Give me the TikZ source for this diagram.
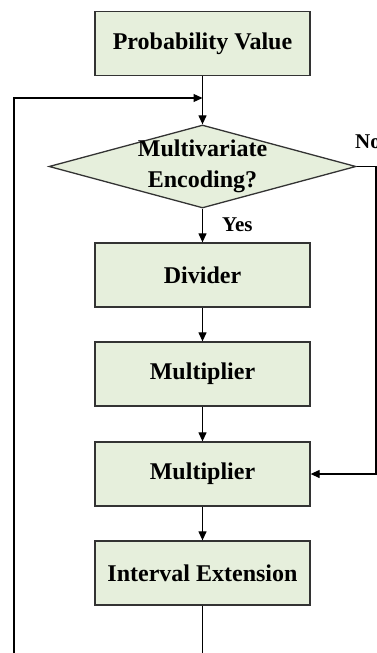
\documentclass[tikz,border=0pt]{standalone}
\usepackage{fontspec}
\setmainfont{Liberation Serif}
\usetikzlibrary{shapes.geometric,arrows.meta}
\definecolor{boxfill}{HTML}{E6EFDC}
\definecolor{boxline}{HTML}{333333}
\tikzset{
  stepbox/.style={draw=boxline, line width=1.3pt, fill=boxfill,
    minimum width=215pt, minimum height=64pt, inner sep=0pt,
    font=\fontsize{24}{28}\selectfont\bfseries},
  decbox/.style={diamond, draw=boxline, line width=1.3pt, fill=boxfill,
    minimum width=307pt, minimum height=83pt, inner sep=0pt},
  flow/.style={line width=1.2pt, draw=black, -{Triangle[length=9pt,width=8pt]}},
  plain/.style={line width=1.2pt, draw=black!85},
  lbl/.style={font=\fontsize{21}{24}\selectfont\bfseries, inner sep=0pt}
}
\begin{document}
\begin{tikzpicture}[x=1pt,y=-1pt]
  \path[use as bounding box, clip] (0,0) rectangle (377,653);

  % process steps
  \node[stepbox] (pv) at (202.5,43.5) {Probability Value};
  \node[decbox] (dec) at (202.5,166.5) {};
  \node[font=\fontsize{24}{31}\selectfont\bfseries, align=center, inner sep=0pt]
    (dectext) at (202.5,166) {Multivariate\\Encoding?};
  \node[stepbox] (div) at (202.5,275) {Divider};
  \node[stepbox] (m1) at (202.5,374) {Multiplier};
  \node[stepbox] (m2) at (202.5,474) {Multiplier};
  \node[stepbox] (ie) at (202.5,573) {Interval Extension};

  % branch labels
  \node[lbl, anchor=west] (yes) at (222,225) {Yes};
  \node[lbl, anchor=west] (no) at (355,142) {No};

  % helper points for the routed connectors
  \coordinate (join) at (202.5,98);
  \coordinate (nocorner) at (376,166.5);
  \coordinate (nobottom) at (376,474);
  \coordinate (loopdown) at (202.5,680);
  \coordinate (loopleft) at (14,680);
  \coordinate (looptop) at (14,98);

  % main flow
  \draw[flow] (pv.south) -- (dec.north);
  \draw[flow] (dec.south) -- (div.north);
  \draw[flow] (div.south) -- (m1.north);
  \draw[flow] (m1.south) -- (m2.north);
  \draw[flow] (m2.south) -- (ie.north);

  % "No" bypass into the second multiplier
  \draw[flow] (dec.east) -- (nocorner) -- (nobottom) -- (m2.east);

  % feedback loop back to the decision
  \draw[flow] (ie.south) -- (loopdown) -- (loopleft) -- (looptop) -- (join);
\end{tikzpicture}
\end{document}
